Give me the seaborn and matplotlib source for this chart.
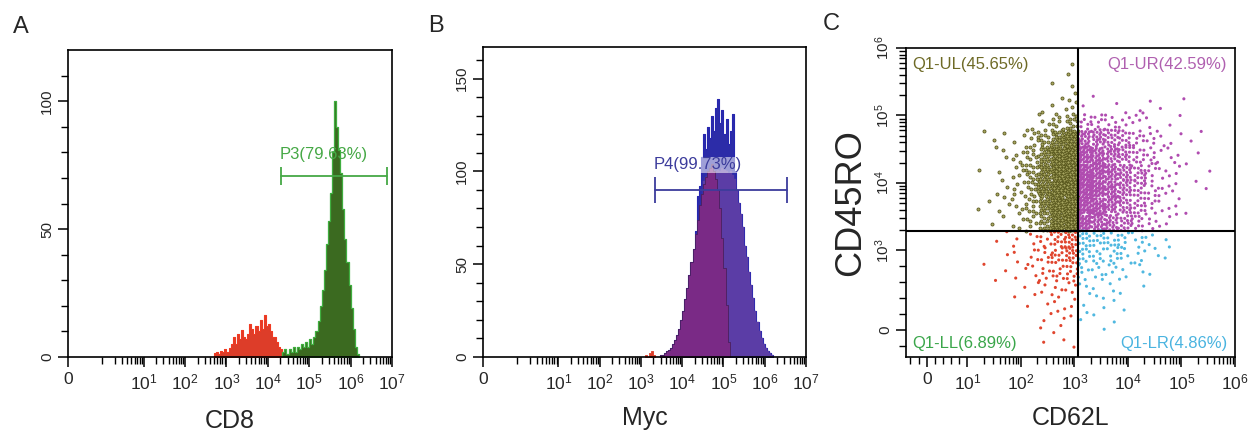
import numpy as np
import pandas as pd
import matplotlib
matplotlib.use("Agg")
import matplotlib.pyplot as plt
import seaborn as sns

# histogram bin width, in log10 units of fluorescence
BIN_W = 0.05

# A: CD8 histogram (log10 of first bin edge, counts per bin)
cd8_neg_start = 2.70
cd8_neg_counts = [1.5, 2, 1, 2.5, 2, 3, 2, 3.5, 5, 8, 5, 9, 7, 10.5, 8, 7, 9,
                  13, 11, 9, 12, 10, 14.5, 11, 16.5, 12, 13, 10, 8, 8, 6, 4, 3]
cd8_pos_start = 4.35
cd8_pos_counts = [2, 3, 1, 3, 2, 4, 2, 4, 3, 5, 4, 6, 4, 7, 5, 8, 10, 14, 20,
                  26, 34, 44, 53, 64, 80, 100, 90, 81, 72, 58, 46, 37, 28, 19,
                  11, 4, 1]
cd8_gate = [10 ** 4.31, 10 ** 6.88]
cd8_gate_level = 70.6

# B: Myc histogram overlay
myc_blue_start = 3.45
myc_blue_counts = [1, 1, 2, 3, 4, 5, 7, 9, 12, 15, 20, 25, 31, 37, 44, 51, 58,
                   68, 87, 92, 108, 120, 112, 124, 118, 130, 122, 134, 139, 126,
                   133, 120, 128, 115, 122, 131, 100, 90, 83, 77, 70, 60, 54,
                   46, 39, 32, 25, 19, 14, 10, 7, 5, 3, 2, 1]
myc_violet_start = 4.50
myc_violet_counts = [95, 97, 98, 99, 100, 101, 100, 101, 100, 102, 101, 100, 99,
                     100, 98, 96, 90, 83, 77, 70, 60, 54, 46, 39, 32, 25, 19,
                     14, 10, 7, 5, 3, 2, 1]
myc_purple_start = 3.45
myc_purple_counts = [1, 1, 2, 3, 4, 5, 7, 9, 12, 15, 20, 25, 31, 37, 44, 51,
                     58, 66, 74, 82, 88, 93, 97, 100, 102, 104, 100, 96, 90,
                     80, 64, 48, 28, 8]
myc_ctrl_start = 3.10
myc_ctrl_counts = [1, 0, 2, 3, 1]
myc_gate = [10 ** 3.33, 10 ** 6.55]
myc_gate_level = 90

# C: CD62L / CD45RO dot plot, dots per quarter-decade cell.
# row 0 touches the CD45RO gate, column 0 touches the CD62L gate.
cd62l_gate = 1175
cd45ro_gate = 1950
ul_counts = [
    [66, 42, 17, 6, 3, 1, 1, 0],
    [72, 50, 24, 9, 4, 2, 1, 1],
    [76, 54, 28, 11, 5, 2, 1, 0],
    [76, 54, 28, 12, 5, 2, 0, 1],
    [66, 44, 22, 9, 4, 2, 1, 0],
    [40, 25, 11, 5, 2, 1, 1, 1],
    [12, 7, 3, 1, 0, 0, 0, 0],
    [4, 2, 1, 0, 0, 0, 0, 0],
    [2, 1, 0, 0, 0, 0, 0, 0],
    [2, 0, 0, 0, 0, 0, 0, 0],
]
ur_counts = [
    [36, 29, 23, 16, 10, 5, 3, 1, 0, 0, 0],
    [40, 34, 27, 19, 12, 6, 3, 2, 1, 0, 0],
    [42, 36, 30, 21, 13, 7, 4, 2, 1, 1, 0],
    [42, 36, 30, 21, 13, 8, 4, 2, 1, 1, 0],
    [36, 30, 24, 17, 11, 6, 3, 2, 1, 0, 0],
    [25, 22, 18, 13, 8, 5, 3, 1, 1, 1, 0],
    [8, 8, 6, 5, 4, 2, 1, 1, 0, 0, 0],
    [1, 1, 1, 0, 1, 1, 1, 1, 0, 0, 0],
]
ll_counts = [
    [16, 11, 6, 3, 2, 1, 1, 0],
    [15, 11, 7, 4, 2, 1, 0, 1],
    [9, 8, 5, 3, 1, 1, 1, 0],
    [4, 4, 3, 2, 1, 0, 0, 0],
    [2, 3, 2, 1, 0, 0, 0, 0],
    [1, 2, 2, 0, 0, 0, 0, 0],
    [1, 2, 1, 0, 0, 0, 0, 0],
]
lr_counts = [
    [13, 11, 8, 7, 5, 3, 2],
    [10, 8, 7, 5, 4, 2, 1],
    [6, 5, 4, 3, 2, 1, 0],
    [3, 3, 2, 1, 1, 0, 0],
    [2, 2, 1, 1, 0, 0, 0],
    [1, 1, 1, 0, 0, 0, 0],
]
quad_labels = ["Q1-UL(45.65%)", "Q1-UR(42.59%)", "Q1-LL(6.89%)", "Q1-LR(4.86%)"]

# colours
RED = "#dd3d29"
GREEN_FILL = "#3b6a20"
GREEN_EDGE = "#3fae3f"
GATE_GREEN = "#45a845"
BLUE = "#2c2ca8"
VIOLET = "#5b3da6"
PURPLE = "#7a2a86"
GATE_BLUE = "#3c3c9c"
quad_colors = {"UL": "#55541a", "UR": "#b04cb0", "LL": "#e0452e", "LR": "#50b8e0"}
quad_text_colors = {"UL": "#6e6a26", "UR": "#b060b0", "LL": "#3aa64a", "LR": "#4ab4e0"}

sns.set_style("ticks")
plt.rcParams["font.family"] = ["Liberation Sans", "DejaVu Sans"]

W, H = 1250, 433
fig = plt.figure(figsize=(W / 100, H / 100), dpi=100)
axA = fig.add_axes([68 / W, 1 - 357 / H, 324 / W, 307 / H])
axB = fig.add_axes([483 / W, 1 - 357 / H, 323 / W, 310 / H])
axC = fig.add_axes([906 / W, 1 - 357 / H, 329 / W, 309 / H])


def sup(n):
    return r"$\mathregular{10^{%d}}$" % n


def draw_hist(ax, start, counts, color, edge, lw):
    # drawn while the axis is still linear; the symlog scale is set afterwards
    edges = start + BIN_W * np.arange(len(counts) + 1)
    df = pd.DataFrame({"value": 10 ** (edges[:-1] + BIN_W / 2),
                       "count": np.asarray(counts, dtype=float)})
    sns.histplot(data=df, x="value", weights="count", bins=list(10 ** edges),
                 element="step", fill=True, color=color, edgecolor=edge,
                 linewidth=lw, alpha=1, ax=ax)


def style_box(ax):
    for sp in ax.spines.values():
        sp.set_visible(True)
        sp.set_linewidth(1.2)
        sp.set_color("black")
    ax.tick_params(which="major", length=7, width=1.1, direction="out", color="black")
    ax.tick_params(which="minor", length=5, width=1.0, direction="out", color="black")
    ax.tick_params(axis="x", labelsize=12.5, pad=4)
    ax.tick_params(axis="y", labelsize=11, labelrotation=90, pad=3)
    for lab in ax.get_yticklabels():
        lab.set_va("center")


def hist_axes(ax, ymax, ymajor):
    ax.set_xscale("symlog", base=10, linthresh=1, linscale=0.747)
    ax.set_xlim(0, 1e7)
    ax.set_ylim(0, ymax)
    ax.set_xticks([0] + [10 ** d for d in range(1, 8)])
    ax.set_xticklabels(["0"] + [sup(d) for d in range(1, 8)])
    ax.set_xticks([k * 10 ** d for d in range(0, 7) for k in range(1, 10) if not (k == 1 and d > 0)],
                  minor=True)
    ax.set_yticks(ymajor)
    ax.set_yticks(np.arange(0, ymax, 10), minor=True)
    ax.set_ylabel("")
    style_box(ax)


# ---- A ----
draw_hist(axA, cd8_neg_start, cd8_neg_counts, RED, "#f03a22", 0.8)
draw_hist(axA, cd8_pos_start, cd8_pos_counts, GREEN_FILL, GREEN_EDGE, 0.9)
hist_axes(axA, 120, [0, 50, 100])
axA.plot(cd8_gate, [cd8_gate_level] * 2, color=GATE_GREEN, lw=1.3,
         marker="|", markersize=13, markeredgewidth=1.3)
axA.annotate("P3(79.63%)", (cd8_gate[0], cd8_gate_level), xytext=(-1, 16),
             textcoords="offset points", color=GATE_GREEN, fontsize=12,
             ha="left", va="center")
axA.set_xlabel("CD8", fontsize=18, labelpad=12)

# ---- B ----
draw_hist(axB, myc_ctrl_start, myc_ctrl_counts, RED, RED, 0.6)
draw_hist(axB, myc_blue_start, myc_blue_counts, BLUE, "#2626b0", 0.8)
draw_hist(axB, myc_violet_start, myc_violet_counts, VIOLET, VIOLET, 0.3)
draw_hist(axB, myc_purple_start, myc_purple_counts, PURPLE, "#4a1f5e", 0.6)
hist_axes(axB, 167, [0, 50, 100, 150])
axB.plot(myc_gate, [myc_gate_level] * 2, color=GATE_BLUE, lw=1.3,
         marker="|", markersize=19, markeredgewidth=1.3)
axB.annotate("P4(99.73%)", (myc_gate[0], myc_gate_level), xytext=(-1, 18),
             textcoords="offset points", color=GATE_BLUE, fontsize=12,
             ha="left", va="center",
             bbox=dict(boxstyle="square,pad=0.05", facecolor="white",
                       edgecolor="none", alpha=0.55))
axB.set_xlabel("Myc", fontsize=18, labelpad=10)

# ---- C ----
axC.set_xscale("symlog", base=10, linthresh=10, linscale=0.684)
axC.set_yscale("symlog", base=10, linthresh=1000, linscale=1.062)
axC.set_xlim(-5.1, 1e6)
axC.set_ylim(-339, 1e6)

tx = axC.xaxis.get_transform()
ty = axC.yaxis.get_transform()
gx = tx.transform(np.array([float(cd62l_gate)]))[0]
gy = ty.transform(np.array([float(cd45ro_gate)]))[0]
cx = 0.25 * 10      # quarter decade in symlog units (x)
cy = 0.25 * 1000    # quarter decade in symlog units (y)
A1 = 1 / 1.324717957244746
A2 = A1 ** 2

rows = []
idx = 0
for quad, counts, sx, sy in [("UL", ul_counts, -cx, cy), ("UR", ur_counts, cx, cy),
                             ("LL", ll_counts, -cx, -cy), ("LR", lr_counts, cx, -cy)]:
    for j, row in enumerate(counts):
        for k, n in enumerate(row):
            for _ in range(n):
                u = (0.5 + idx * A1) % 1
                v = (0.5 + idx * A2) % 1
                idx += 1
                rows.append((quad, gx + sx * (k + u), gy + sy * (j + v)))
dots = pd.DataFrame(rows, columns=["quadrant", "tx", "ty"])
dots["CD62L"] = tx.inverted().transform(dots["tx"].to_numpy())
dots["CD45RO"] = ty.inverted().transform(dots["ty"].to_numpy())

# olive dots are drawn as dark rings with a paler centre, like the cytometer export
ul = dots[dots["quadrant"] == "UL"]
rest = dots[dots["quadrant"] != "UL"]
sns.scatterplot(data=ul, x="CD62L", y="CD45RO", color="#a9a762", s=5,
                edgecolor=quad_colors["UL"], linewidth=0.55, legend=False, ax=axC)
sns.scatterplot(data=rest, x="CD62L", y="CD45RO", hue="quadrant",
                palette=quad_colors, s=5, linewidth=0, legend=False, ax=axC)
axC.axvline(cd62l_gate, color="black", lw=1.5)
axC.axhline(cd45ro_gate, color="black", lw=1.5)

axC.set_xticks([0] + [10 ** d for d in range(1, 7)])
axC.set_xticklabels(["0"] + [sup(d) for d in range(1, 7)])
axC.set_xticks([-4, -2, 2, 4, 6, 8] + [k * 10 ** d for d in range(1, 6) for k in range(2, 10)],
               minor=True)
axC.set_yticks([0, 1e3, 1e4, 1e5, 1e6])
axC.set_yticklabels(["0"] + [sup(d) for d in range(3, 7)])
axC.set_yticks([-200, 200, 400, 600, 800] + [k * 10 ** d for d in range(3, 6) for k in range(2, 10)],
               minor=True)
axC.set_xlim(-5.1, 1e6)
axC.set_ylim(-339, 1e6)
style_box(axC)
axC.set_xlabel("CD62L", fontsize=18, labelpad=10)
axC.set_ylabel("CD45RO", fontsize=26, labelpad=4)

for (quad, text), (x, ha), y in zip(zip(["UL", "UR", "LL", "LR"], quad_labels),
                                    [(0.018, "left"), (0.976, "right"), (0.018, "left"), (0.976, "right")],
                                    [0.948, 0.948, 0.045, 0.045]):
    axC.text(x, y, text, transform=axC.transAxes, color=quad_text_colors[quad],
             fontsize=12, ha=ha, va="center")

for letter, x, y in [("A", 13, 27), ("B", 428, 26), ("C", 823, 24)]:
    fig.text(x / W, 1 - y / H, letter, fontsize=17, ha="left", va="center")

fig.savefig("out.png", dpi=100)
